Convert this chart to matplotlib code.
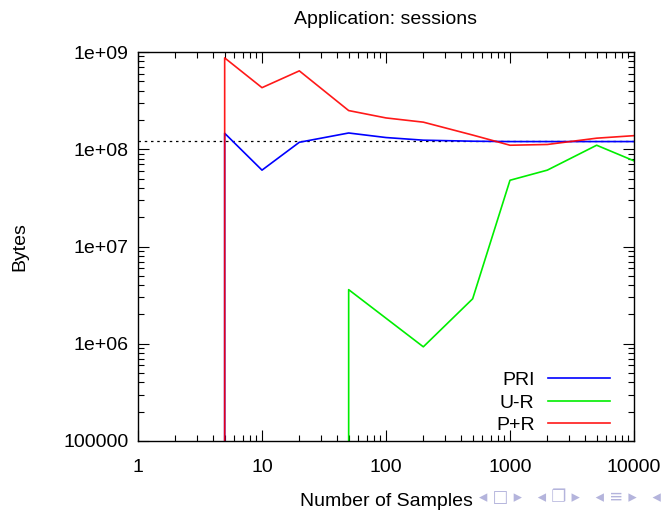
import numpy as np
import matplotlib
matplotlib.use("Agg")
import matplotlib.pyplot as plt
from matplotlib.ticker import LogLocator, FixedLocator, FixedFormatter

plt.rcParams['font.family'] = ['Liberation Sans', 'DejaVu Sans']

# samples; the first point of each curve is below the axis range (vertical drop)
pri_x = [5, 5, 10, 20, 50, 100, 200, 500, 1000, 2000, 5000, 10000]
pri_y = [1e3, 1.46e8, 6.1e7, 1.18e8, 1.47e8, 1.32e8, 1.24e8, 1.21e8, 1.2e8, 1.2e8, 1.2e8, 1.2e8]

ur_x = [50, 50, 200, 500, 1000, 2000, 5000, 10000]
ur_y = [1e3, 3.6e6, 9.3e5, 2.9e6, 4.8e7, 6.1e7, 1.1e8, 7.6e7]

pr_x = [5, 5, 10, 20, 50, 100, 200, 500, 1000, 2000, 5000, 10000]
pr_y = [1e3, 8.7e8, 4.3e8, 6.4e8, 2.5e8, 2.1e8, 1.9e8, 1.4e8, 1.1e8, 1.12e8, 1.3e8, 1.38e8]

ref_y = 1.22e8

xticks = [1, 10, 100, 1000, 10000]
xlabels = ['1', '10', '100', '1000', '10000']
yticks = [1e5, 1e6, 1e7, 1e8, 1e9]
ylabels = ['100000', '1e+06', '1e+07', '1e+08', '1e+09']

fig = plt.figure(figsize=(6.67, 5.11), dpi=100)
ax = fig.add_axes([0.2069, 0.137, 0.7436, 0.7612])

ax.axhline(ref_y, color='black', lw=0.9, linestyle=(0, (2, 3)))
ax.plot(pri_x, pri_y, color='#0000ff', lw=1.2, label='PRI')
ax.plot(ur_x, ur_y, color='#00ee00', lw=1.2, label='U-R')
ax.plot(pr_x, pr_y, color='#ff0000', lw=1.2, label='P+R', alpha=0.9)

ax.set_xscale('log')
ax.set_yscale('log')
ax.set_xlim(1, 10000)
ax.set_ylim(1e5, 1e9)

ax.xaxis.set_major_locator(FixedLocator(xticks))
ax.xaxis.set_major_formatter(FixedFormatter(xlabels))
ax.yaxis.set_major_locator(FixedLocator(yticks))
ax.yaxis.set_major_formatter(FixedFormatter(ylabels))
ax.xaxis.set_minor_locator(LogLocator(base=10, subs=np.arange(2, 10), numticks=20))
ax.yaxis.set_minor_locator(LogLocator(base=10, subs=np.arange(2, 10), numticks=20))
ax.xaxis.set_minor_formatter(plt.NullFormatter())
ax.yaxis.set_minor_formatter(plt.NullFormatter())

ax.tick_params(which='both', direction='in', top=True, right=True, width=0.8)
ax.tick_params(which='major', length=8, labelsize=14, pad=7)
ax.tick_params(which='minor', length=4)
ax.tick_params(axis='x', which='major', pad=13)
for s in ax.spines.values():
    s.set_linewidth(1.0)

ax.set_title('Application: sessions', fontsize=14, pad=20)
ax.set_xlabel('Number of Samples', fontsize=14, labelpad=12)
ax.set_ylabel('Bytes', fontsize=14, labelpad=25)

ax.legend(loc='lower right', bbox_to_anchor=(0.98, -0.017), frameon=False, markerfirst=False,
          fontsize=14, handlelength=3.2, handletextpad=0.7, labelspacing=0.25,
          borderaxespad=0.3)

# beamer navigation symbols
fig.text(0.718, 0.027, '\u25c2 \u25a1 \u25b8   \u25c2 \u2750 \u25b8   \u25c2 \u2261 \u25b8   \u25c2',
         color='#b4b4dc', fontsize=12, family='DejaVu Sans', va='center')

fig.savefig('out.png', dpi=100)
